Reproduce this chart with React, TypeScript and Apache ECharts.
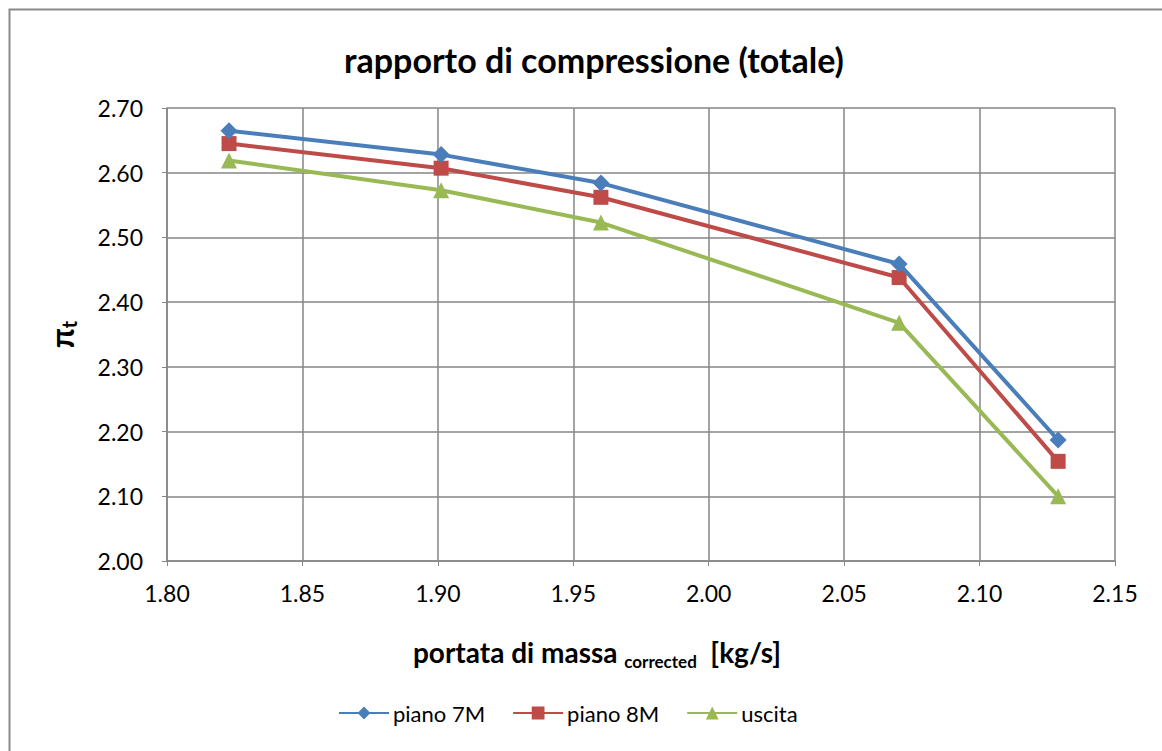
import React, { useEffect, useRef } from "react";
import * as echarts from "echarts";

const xValues = [1.8229, 1.9012, 1.9602, 2.0703, 2.129];
const piano7M = [2.665, 2.628, 2.584, 2.459, 2.187];
const piano8M = [2.645, 2.607, 2.562, 2.438, 2.154];
const uscita = [2.619, 2.573, 2.523, 2.368, 2.1];
const seriesNames = ["piano 7M", "piano 8M", "uscita"];
const colors = ["#4a7ebb", "#be4b48", "#98b954"];

const FONT = "Lato, 'Liberation Sans', sans-serif";

export default function App() {
  const ref = useRef<HTMLDivElement>(null);
  useEffect(() => {
    const chart = echarts.init(ref.current!, null, { renderer: "svg" });
    const pairs = (ys: number[]) => xValues.map((x, i) => [x, ys[i]]);
    const symbols = ["diamond", "rect", "triangle"];
    const sizes = [17, 15, 16];
    const data = [piano7M, piano8M, uscita];
    chart.setOption({
      animation: false,
      backgroundColor: "#ffffff",
      textStyle: { fontFamily: FONT },
      title: {
        text: "rapporto di compressione (totale)",
        left: 589,
        textAlign: "center",
        top: 37,
        textStyle: { fontFamily: FONT, fontSize: 34, fontWeight: "bold", color: "#000" },
      },
      graphic: [
        {
          type: "rect",
          shape: { x: 9.5, y: 9.5, width: 1160, height: 800 },
          style: { fill: "none", stroke: "#8a8a8a", lineWidth: 2 },
          silent: true,
        },
      ],
      legend: {
        bottom: 22,
        left: 333,
        itemWidth: 50,
        itemHeight: 16,
        itemGap: 27,
        textStyle: { fontFamily: FONT, fontSize: 22, color: "#000", padding: [0, 0, 0, -1] },
        data: seriesNames,
      },
      grid: { left: 167, right: 47, top: 108, bottom: 190, containLabel: false },
      xAxis: {
        type: "value",
        min: 1.8,
        max: 2.15,
        interval: 0.05,
        name: "{b|portata di massa }{s|corrected}{b|  [kg/s]}",
        nameLocation: "middle",
        nameGap: 72,
        nameTextStyle: {
          padding: [0, 88, 0, 0],
          rich: {
            b: { fontFamily: FONT, fontSize: 28, fontWeight: "bold", color: "#000" },
            s: { fontFamily: FONT, fontSize: 17, fontWeight: "bold", color: "#000", padding: [20, 0, 0, 0] },
          },
        },
        axisLine: { show: true, lineStyle: { color: "#868686", width: 1.5 } },
        axisTick: { show: true, length: 5, lineStyle: { color: "#868686" } },
        axisLabel: {
          fontFamily: FONT,
          fontSize: 23,
          color: "#000",
          margin: 20,
          formatter: (v: number) => v.toFixed(2),
        },
        splitLine: { show: true, lineStyle: { color: "#868686", width: 1.5 } },
      },
      yAxis: {
        type: "value",
        min: 2.0,
        max: 2.7,
        interval: 0.1,
        name: "{b|π}{s|t}",
        nameLocation: "middle",
        nameRotate: 90,
        nameGap: 88,
        nameTextStyle: {
          rich: {
            b: { fontFamily: FONT, fontSize: 32, fontWeight: "bold", color: "#000" },
            s: { fontFamily: FONT, fontSize: 20, fontWeight: "bold", color: "#000", padding: [16, 0, 0, 0] },
          },
        },
        axisLine: { show: true, lineStyle: { color: "#868686", width: 1.5 } },
        axisTick: { show: true, length: 5, lineStyle: { color: "#868686" } },
        axisLabel: {
          fontFamily: FONT,
          fontSize: 23,
          color: "#000",
          margin: 24,
          formatter: (v: number) => v.toFixed(2),
        },
        splitLine: { show: true, lineStyle: { color: "#868686", width: 1.5 } },
      },
      series: seriesNames.map((name, i) => ({
        name,
        type: "line",
        data: pairs(data[i]),
        symbol: symbols[i],
        symbolSize: sizes[i],
        showAllSymbol: true,
        lineStyle: { color: colors[i], width: 4 },
        itemStyle: { color: colors[i], borderWidth: 0 },
        z: 3 - i,
      })),
    });
    return () => chart.dispose();
  }, []);
  return (
    <div
      ref={ref}
      style={{ position: "absolute", left: 0, top: 0, width: 1162, height: 751 }}
    />
  );
}
